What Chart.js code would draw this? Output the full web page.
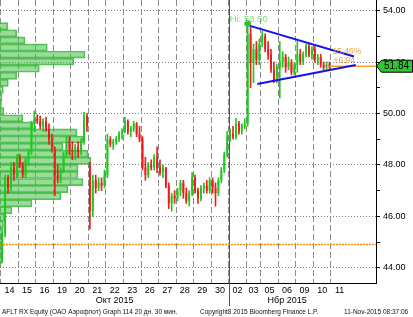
<!DOCTYPE html>
<html>
<head>
<meta charset="utf-8">
<script src="https://cdn.jsdelivr.net/npm/chart.js@4.4.0/dist/chart.umd.min.js"></script>
<style>
    body { margin: 0; background: #fff; }
    #wrap { position: relative; width: 413px; height: 317px; font-family: 'Liberation Sans', Arial, sans-serif; }
    #chart { position: absolute; left: 0; top: 0; }
    .foot { position: absolute; top: 308px; font-size: 6.5px; line-height: 8px; color: #111; white-space: nowrap; }
</style>
</head>
<body>
<div id="wrap">
    <canvas id="chart" width="413" height="317"></canvas>
    <span class="foot" style="left:2px">AFLT RX Equity (OAO Аэрофлот) Graph 114 20 дн. 30 мин.</span>
    <span class="foot" style="left:200px">Copyright8 2015 Bloomberg Finance L.P.</span>
    <span class="foot" style="left:344px">11-Nov-2015 08:37:06</span>
</div>
<script>
// trading days on the axis, slots per day (03 Nov was a short session), candles drawn per day
const dayLabels = ['14', '15', '16', '19', '20', '21', '22', '23', '26', '27', '28', '29', '30', '02', '03', '05', '06', '09', '10', '11'];
const monthLabels = { 6: 'Окт 2015', 16: 'Нбр 2015' };
const barsPerDay = [6, 6, 6, 6, 6, 6, 6, 6, 6, 6, 6, 6, 6, 6, 5, 6, 6, 6, 6, 6];
const candlesPerDay = [6, 6, 6, 6, 6, 6, 6, 6, 6, 6, 6, 6, 6, 6, 5, 6, 6, 6, 6, 0];
const monthBreakDay = 13;

const opens = [
    44.3, 45.3, 47.5, 47.1, 47.9, 47.6,
    48.3, 48.0, 47.6, 48.2, 48.5, 49.6,
    49.8, 49.7, 49.5, 49.7, 49.4, 49.0,
    48.6, 47.6, 47.5, 47.8, 48.4, 48.9,
    48.6, 48.5, 48.7, 48.5, 48.9, 49.9,
    48.0, 46.2, 47.4, 47.1, 47.3, 47.2,
    47.6, 49.0, 48.8, 48.9, 49.0, 49.2,
    49.3, 49.7, 49.3, 49.4, 49.6, 49.2,
    49.0, 47.9, 47.6, 48.0, 47.9, 48.3,
    47.9, 47.7, 47.9, 47.2, 46.5, 46.8,
    46.7, 47.0, 47.3, 46.9, 46.6, 46.9,
    47.5, 47.0, 46.7, 47.1, 47.2, 47.0,
    47.4, 47.1, 46.9, 47.4, 47.8, 48.4,
    49.1, 49.2, 49.1, 49.6, 49.3, 49.5,
    49.6, 53.1, 52.0, 52.5, 52.1,
    52.7, 53.0, 52.5, 52.3, 51.7, 51.3,
    51.8, 52.0, 52.2, 51.8, 52.0, 51.6,
    51.9, 52.3, 52.0, 52.3, 52.6, 52.3,
    52.5, 52.1, 52.2, 51.9, 51.8, 51.9
];
const highs = [
    45.4, 47.6, 47.6, 48.1, 48.1, 48.4,
    48.4, 48.1, 48.3, 48.6, 49.7, 50.1,
    49.95, 49.9, 49.8, 49.85, 49.6, 49.2,
    48.7, 48.0, 47.9, 48.5, 49.1, 49.1,
    48.9, 48.8, 48.9, 49.0, 50.05, 50.0,
    48.1, 47.6, 47.6, 47.5, 47.5, 47.8,
    49.2, 49.1, 49.0, 49.1, 49.3, 49.4,
    49.85, 49.75, 49.5, 49.7, 49.65, 49.5,
    49.1, 48.3, 48.1, 48.2, 48.4, 48.7,
    48.2, 48.0, 47.9, 47.3, 46.9, 47.0,
    47.1, 47.4, 47.4, 47.1, 47.0, 47.7,
    47.6, 47.1, 47.2, 47.3, 47.4, 47.5,
    47.5, 47.3, 47.5, 47.9, 48.5, 49.3,
    49.4, 49.5, 49.8, 49.7, 49.6, 49.8,
    53.5, 53.35, 52.7, 52.8, 52.9,
    53.2, 53.1, 52.8, 52.5, 52.0, 51.9,
    52.8, 52.4, 52.3, 52.2, 52.1, 52.0,
    52.8, 52.5, 52.4, 52.7, 52.7, 52.6,
    52.6, 52.3, 52.3, 52.0, 52.0, 52.0
];
const lows = [
    44.2, 45.2, 46.9, 47.0, 47.4, 47.5,
    47.9, 47.5, 47.5, 48.0, 48.4, 49.3,
    49.6, 49.4, 49.3, 49.3, 48.8, 48.5,
    46.8, 47.3, 47.3, 47.7, 48.3, 48.4,
    48.2, 48.2, 48.3, 48.4, 48.8, 49.3,
    45.5, 46.0, 46.9, 47.0, 47.0, 47.1,
    47.5, 48.7, 48.6, 48.8, 48.9, 49.0,
    49.25, 49.2, 49.1, 49.3, 49.1, 48.9,
    47.8, 47.4, 47.5, 47.8, 47.8, 47.7,
    47.6, 47.5, 47.1, 46.3, 46.2, 46.5,
    46.6, 46.8, 46.7, 46.5, 46.4, 46.8,
    46.9, 46.5, 46.6, 46.9, 46.9, 46.9,
    46.9, 46.4, 46.8, 47.3, 47.7, 48.3,
    48.9, 49.0, 49.0, 49.2, 49.2, 49.4,
    49.5, 51.0, 51.2, 51.9, 51.9,
    52.6, 52.4, 52.1, 51.6, 51.2, 51.2,
    50.6, 51.8, 51.6, 51.7, 51.5, 51.5,
    51.6, 51.9, 51.9, 52.2, 52.2, 52.1,
    52.0, 51.9, 51.8, 51.7, 51.7, 51.75
];
const closes = [
    45.3, 47.5, 47.1, 47.9, 47.6, 48.3,
    48.0, 47.6, 48.2, 48.5, 49.6, 49.8,
    49.7, 49.5, 49.7, 49.4, 49.0, 48.7,
    47.6, 47.5, 47.8, 48.4, 48.9, 48.6,
    48.5, 48.7, 48.5, 48.9, 49.9, 49.5,
    46.2, 47.4, 47.1, 47.3, 47.2, 47.6,
    49.0, 48.8, 48.9, 49.0, 49.2, 49.3,
    49.7, 49.3, 49.4, 49.6, 49.2, 49.0,
    47.9, 47.6, 48.0, 47.9, 48.3, 47.9,
    47.7, 47.9, 47.2, 46.5, 46.8, 46.7,
    47.0, 47.3, 46.9, 46.6, 46.9, 47.5,
    47.0, 46.7, 47.1, 47.2, 47.0, 47.4,
    47.1, 46.9, 47.4, 47.8, 48.4, 49.1,
    49.2, 49.1, 49.6, 49.3, 49.5, 49.6,
    53.1, 52.0, 52.5, 52.1, 52.7,
    53.0, 52.5, 52.3, 51.7, 51.3, 51.8,
    52.0, 52.2, 51.8, 52.0, 51.6, 51.9,
    52.3, 52.0, 52.3, 52.6, 52.3, 52.5,
    52.1, 52.2, 51.9, 51.8, 51.9, 51.84
];

// volume-at-price profile (bin centre, volume in mln shares)
const profilePrices = [53.395, 53.120, 52.844, 52.569, 52.293, 52.018, 51.742, 51.467, 51.191, 50.916, 50.640, 50.365,
    50.089, 49.814, 49.538, 49.263, 48.987, 48.712, 48.436, 48.161, 47.885, 47.610, 47.334, 47.059, 46.783, 46.508,
    46.232, 45.957, 45.681, 45.406, 45.130, 44.855, 44.579, 44.304];
const profileVolumes = [0.77, 1.67, 2.5, 4.73, 8.5, 7.4, 3.93, 1.67, 0.83, 0.33, 0.2, 0.15,
    0.4, 2.27, 3.3, 7.7, 8.3, 6.3, 8.8, 9.1, 7.8, 7.8, 8.3, 6.8, 6.1, 3.2,
    1.2, 0.45, 0.35, 0.3, 0.3, 0.3, 0.25, 0.2];

// triangle drawn on the chart (x in 30-min slots from the first bar)
const triangleUpper = [{ x: 85.3, y: 53.41 }, { x: 120.9, y: 52.22 }];
const triangleLower = [{ x: 87.8, y: 51.15 }, { x: 121.5, y: 51.89 }];
const yTicks = [44, 45, 46, 47, 48, 49, 50, 51, 52, 53, 54];
const lastPrice = 51.84;
const refLevel = 44.9;
const changeText = ['15.46%', '+6.94'];

const xMin = -0.26, xMax = 128.43;
const yMin = 43.405, yMax = 54.416;

const dayStart = [];
let slot = 0;
barsPerDay.forEach(n => { dayStart.push(slot); slot += n; });

const candleX = [];
dayLabels.forEach((d, i) => {
    for (let k = 0; k < candlesPerDay[i]; k++) candleX.push(dayStart[i] + k + 0.5);
});

const GREEN = '#1ec81e';
const RED = '#ee1c1c';
const candleColors = closes.map((c, i) => c >= opens[i] ? GREEN : RED);

let hiIndex = 0;
highs.forEach((h, i) => { if (h > highs[hiIndex]) hiIndex = i; });
const lastX = candleX[candleX.length - 1];

const FONT = 'Liberation Sans';
Chart.defaults.font.family = FONT;
Chart.defaults.color = '#000';

const annotate = {
    id: 'annotate',
    beforeDatasetsDraw(chart) {
        const { ctx, scales: { x } } = chart;
        const px = Math.round(x.getPixelForValue(dayStart[monthBreakDay])) + 0.5;
        ctx.save();
        ctx.strokeStyle = '#555';
        ctx.lineWidth = 1;
        ctx.beginPath();
        ctx.moveTo(px, 0);
        ctx.lineTo(px, 306);
        ctx.stroke();
        ctx.restore();
    },
    afterDraw(chart) {
        const { ctx, chartArea, scales: { x, y } } = chart;
        ctx.save();

        // high marker text
        const hx = x.getPixelForValue(candleX[hiIndex]);
        const hy = y.getPixelForValue(highs[hiIndex]);
        ctx.font = '9.5px ' + FONT;
        ctx.fillStyle = '#86d886';
        ctx.textBaseline = 'alphabetic';
        ctx.fillText('Hi: ' + highs[hiIndex].toFixed(2), hx - 18, hy - 2);

        // change labels
        const lx = x.getPixelForValue(lastX);
        const ly = y.getPixelForValue(lastPrice);
        ctx.font = '8.5px ' + FONT;
        ctx.fillStyle = '#f3a648';
        ctx.textBaseline = 'middle';
        ctx.fillText(changeText[0], lx + 3, ly - 15);
        ctx.fillText(changeText[1], lx + 4, ly - 5.5);

        // last price box on the axis
        const r = chartArea.right;
        ctx.beginPath();
        ctx.moveTo(r + 0.5, ly);
        ctx.lineTo(r + 5.5, ly - 6);
        ctx.lineTo(412.5, ly - 6);
        ctx.lineTo(412.5, ly + 6);
        ctx.lineTo(r + 5.5, ly + 6);
        ctx.closePath();
        ctx.fillStyle = '#2fc72f';
        ctx.fill();
        ctx.strokeStyle = '#000';
        ctx.lineWidth = 1;
        ctx.stroke();
        ctx.fillStyle = '#000';
        ctx.font = '10px ' + FONT;
        ctx.fillText(lastPrice.toFixed(2), r + 8, ly + 0.5);
        ctx.restore();
    }
};

new Chart(document.getElementById('chart'), {
    type: 'line',
    data: {
        datasets: [
            {
                type: 'line', data: triangleUpper, xAxisID: 'x', yAxisID: 'y',
                borderColor: '#1414e6', borderWidth: 2, pointRadius: 0, order: 0
            },
            {
                type: 'line', data: triangleLower, xAxisID: 'x', yAxisID: 'y',
                borderColor: '#1414e6', borderWidth: 2, pointRadius: 0, order: 0
            },
            {
                type: 'line', data: [{ x: lastX, y: lastPrice }, { x: xMax, y: lastPrice }], xAxisID: 'x', yAxisID: 'y',
                borderColor: '#f7a030', borderWidth: 1.5, pointRadius: 0, order: 0
            },
            {
                type: 'line', data: [{ x: xMin, y: refLevel }, { x: xMax, y: refLevel }], xAxisID: 'x', yAxisID: 'y',
                borderColor: '#ff8c00', borderWidth: 1.5, borderDash: [2, 1], pointRadius: 0, order: 5
            },
            {
                type: 'line', data: [{ x: candleX[hiIndex], y: highs[hiIndex] }], xAxisID: 'x', yAxisID: 'y',
                showLine: false, pointRadius: 3, pointBackgroundColor: '#33bb33', pointBorderColor: '#33bb33', order: 0
            },
            {
                type: 'bar', data: candleX.map((v, i) => ({ x: v, y: [lows[i], highs[i]] })), xAxisID: 'x', yAxisID: 'y',
                backgroundColor: candleColors, barThickness: 1, grouped: false, order: 2
            },
            {
                type: 'bar', data: candleX.map((v, i) => ({ x: v, y: [opens[i], closes[i]] })), xAxisID: 'x', yAxisID: 'y',
                backgroundColor: candleColors, barPercentage: 0.65, categoryPercentage: 1, minBarLength: 1,
                grouped: false, order: 1
            },
            {
                type: 'bar', indexAxis: 'y', xAxisID: 'x2', yAxisID: 'y',
                data: profilePrices.map((p, i) => ({ x: profileVolumes[i], y: p })),
                backgroundColor: 'rgba(70, 190, 70, 0.55)', borderColor: 'rgba(60, 185, 60, 0.85)', borderWidth: 1,
                barThickness: 7.1, grouped: false, order: 10
            }
        ]
    },
    options: {
        responsive: false,
        animation: false,
        events: [],
        layout: { padding: 0, autoPadding: false },
        plugins: { legend: { display: false }, tooltip: { enabled: false } },
        scales: {
            x: {
                type: 'linear', position: 'bottom', weight: 0, min: xMin, max: xMax, offset: false,
                afterBuildTicks: s => { s.ticks = dayStart.map(v => ({ value: v })); },
                ticks: { display: false },
                grid: { color: '#8c8c8c', lineWidth: 1, drawTicks: false, offset: false },
                border: { display: true, color: '#000', width: 1, dash: [6, 3] },
                afterFit: s => { s.height = 0; s.paddingLeft = 0; s.paddingRight = 0; }
            },
            xLabels: {
                type: 'linear', position: 'bottom', weight: 1, min: xMin, max: xMax, offset: false,
                afterBuildTicks: s => { s.ticks = dayLabels.map((d, i) => ({ value: dayStart[i] + barsPerDay[i] / 2 })); },
                ticks: {
                    autoSkip: false, maxRotation: 0, padding: 3, color: '#000',
                    font: { size: 9, lineHeight: 1.1 },
                    callback: (v, i) => monthLabels[i] ? [dayLabels[i], monthLabels[i]] : dayLabels[i]
                },
                grid: { display: false, drawTicks: false, offset: false },
                border: { display: false },
                afterFit: s => { s.height = 34; s.paddingLeft = 0; s.paddingRight = 0; }
            },
            x2: { type: 'linear', min: 0, max: 37.6, display: false, offset: false },
            y: {
                type: 'linear', position: 'right', min: yMin, max: yMax, offset: false,
                afterBuildTicks: s => { s.ticks = yTicks.map(v => ({ value: v })); },
                ticks: {
                    color: '#000', padding: 3, font: { size: 9 },
                    callback: v => v % 2 === 0 ? v.toFixed(2) : ''
                },
                grid: {
                    color: c => c.tick && c.tick.value % 2 === 0 ? '#7a7a7a' : 'rgba(0,0,0,0)',
                    tickColor: '#000', tickLength: 4, drawTicks: true, offset: false
                },
                border: { display: true, color: '#000', width: 1, dash: [1, 2] },
                afterFit: s => { s.width = 37; s.paddingTop = 0; s.paddingBottom = 0; }
            }
        }
    },
    plugins: [annotate]
});
</script>
</body>
</html>
